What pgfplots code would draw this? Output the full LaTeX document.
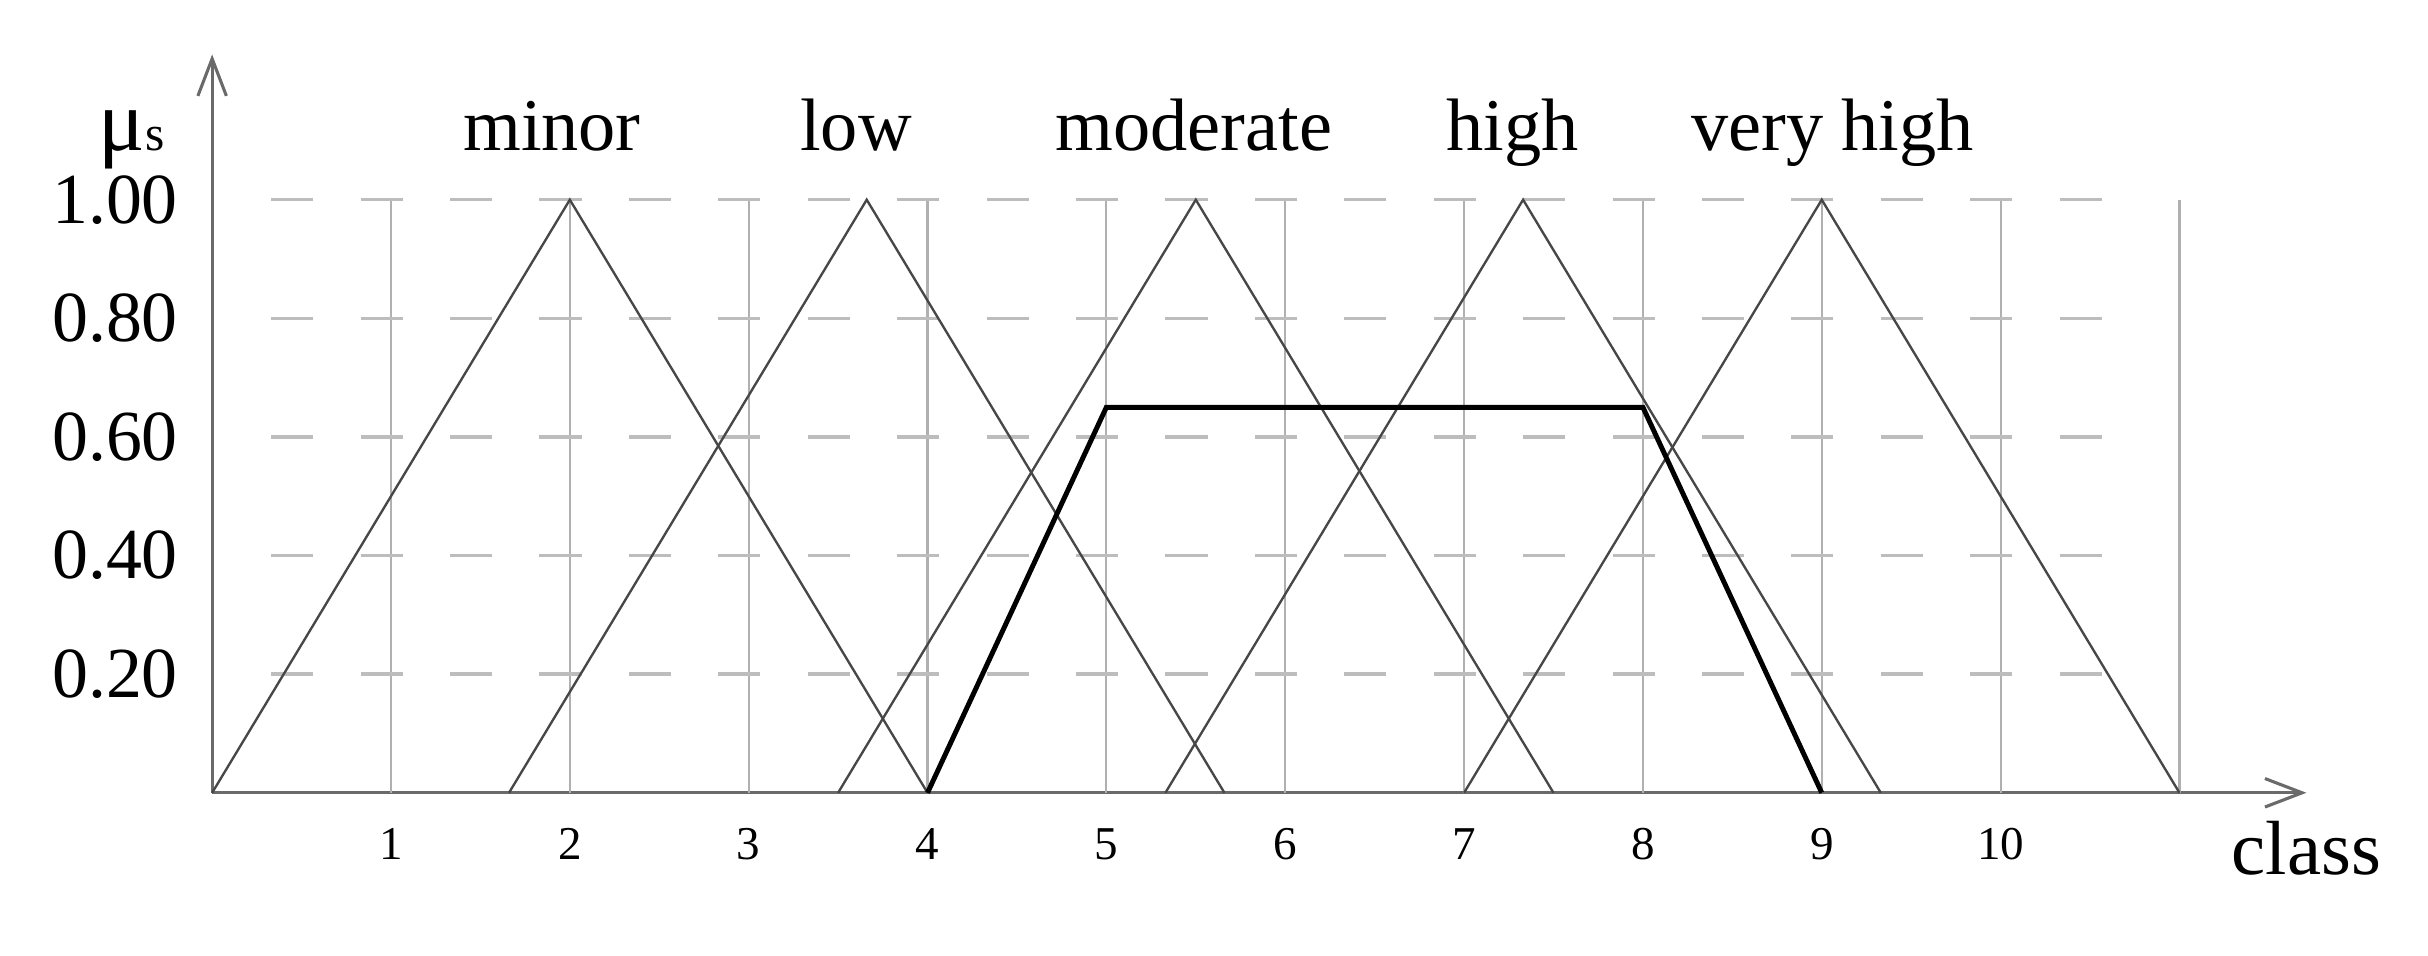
\documentclass[border=0pt]{standalone}
\usepackage{fontspec}
\setmainfont{Liberation Serif}
\usepackage{pgfplots}
\pgfplotsset{compat=1.18}
\usetikzlibrary{arrows.meta}
\definecolor{gridgray}{HTML}{BDBDBD}
\definecolor{vgray}{HTML}{B0B0B0}
\definecolor{linegray}{HTML}{474747}
\definecolor{axgray}{HTML}{6A6A6A}
\begin{document}
\begin{tikzpicture}
\path[use as bounding box] (-34.25pt,-26.25pt) rectangle (357.75pt,128pt);
\begin{axis}[
  x=28.875pt, y=95.75pt,
  xmin=0, xmax=11.71, ymin=0, ymax=1.245,
  axis lines=left,
  axis line style={axgray, line width=0.5pt},
  x axis line style={-{Straight Barb[length=6pt,width=4.6pt]}},
  y axis line style={-{Straight Barb[length=6pt,width=4.6pt]}},
  clip=false,
  major tick length=0pt,
  xtick={1,2,3,4,5,6,7,8,9,10},
  xticklabels={1,2,3,4,5,6,7,8,9,10},
  ytick={0.2,0.4,0.6,0.8,1.0},
  yticklabels={0.20,0.40,0.60,0.80,1.00},
  xticklabel style={font=\fontsize{7.6}{8}\selectfont, yshift=-2.2pt},
  yticklabel style={font=\fontsize{11.6}{12}\selectfont, xshift=-2pt},
]
% vertical grid lines
\draw[vgray, line width=0.35pt] (axis cs:1,0) -- (axis cs:1,1);
\draw[vgray, line width=0.35pt] (axis cs:2,0) -- (axis cs:2,1);
\draw[vgray, line width=0.35pt] (axis cs:3,0) -- (axis cs:3,1);
\draw[vgray, line width=0.35pt] (axis cs:4,0) -- (axis cs:4,1);
\draw[vgray, line width=0.35pt] (axis cs:5,0) -- (axis cs:5,1);
\draw[vgray, line width=0.35pt] (axis cs:6,0) -- (axis cs:6,1);
\draw[vgray, line width=0.35pt] (axis cs:7,0) -- (axis cs:7,1);
\draw[vgray, line width=0.35pt] (axis cs:8,0) -- (axis cs:8,1);
\draw[vgray, line width=0.35pt] (axis cs:9,0) -- (axis cs:9,1);
\draw[vgray, line width=0.35pt] (axis cs:10,0) -- (axis cs:10,1);
\draw[vgray, line width=0.35pt] (axis cs:11,0) -- (axis cs:11,1);
% horizontal dashed grid lines
\draw[gridgray, line width=0.55pt, dash pattern=on 6.8pt off 7.6375pt] (axis cs:0.33,0.2) -- (axis cs:10.59,0.2);
\draw[gridgray, line width=0.55pt, dash pattern=on 6.8pt off 7.6375pt] (axis cs:0.33,0.4) -- (axis cs:10.59,0.4);
\draw[gridgray, line width=0.55pt, dash pattern=on 6.8pt off 7.6375pt] (axis cs:0.33,0.6) -- (axis cs:10.59,0.6);
\draw[gridgray, line width=0.55pt, dash pattern=on 6.8pt off 7.6375pt] (axis cs:0.33,0.8) -- (axis cs:10.59,0.8);
\draw[gridgray, line width=0.55pt, dash pattern=on 6.8pt off 7.6375pt] (axis cs:0.33,1.0) -- (axis cs:10.59,1.0);
% membership functions
\addplot[linegray, line width=0.38pt, mark=none] coordinates {(0,0) (2,1) (4,0)};
\addplot[linegray, line width=0.38pt, mark=none] coordinates {(1.66,0) (3.66,1) (5.66,0)};
\addplot[linegray, line width=0.38pt, mark=none] coordinates {(3.5,0) (5.5,1) (7.5,0)};
\addplot[linegray, line width=0.38pt, mark=none] coordinates {(5.33,0) (7.33,1) (9.33,0)};
\addplot[linegray, line width=0.38pt, mark=none] coordinates {(7,0) (9,1) (11,0)};
\addplot[black, line width=0.8pt, mark=none] coordinates {(4,0) (5,0.65) (8,0.65) (9,0)};
% labels
\node[anchor=base, font=\fontsize{12}{13}\selectfont] at (axis cs:1.90,1.083) {minor};
\node[anchor=base, font=\fontsize{12}{13}\selectfont] at (axis cs:3.60,1.083) {low};
\node[anchor=base, font=\fontsize{12}{13}\selectfont] at (axis cs:5.49,1.083) {moderate};
\node[anchor=base, font=\fontsize{12}{13}\selectfont] at (axis cs:7.27,1.083) {high};
\node[anchor=base, font=\fontsize{12}{13}\selectfont] at (axis cs:9.06,1.083) {very high};
\node[anchor=base, font=\fontsize{12.4}{13}\selectfont] at (axis cs:11.71,-0.138) {class};
\node[anchor=base, font=\fontsize{14}{15}\selectfont] at (axis cs:-0.45,1.083) {μ{\fontsize{8}{9}\selectfont s}};
\end{axis}
\end{tikzpicture}
\end{document}
